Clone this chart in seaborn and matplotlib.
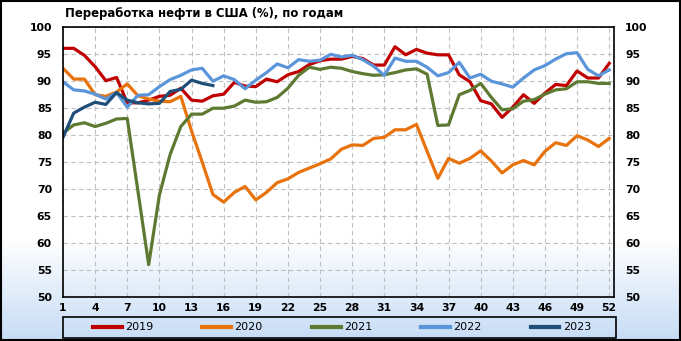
import numpy as np
import pandas as pd
import matplotlib
matplotlib.use("Agg")
import matplotlib.pyplot as plt
from matplotlib.lines import Line2D
from matplotlib.patches import Rectangle
import seaborn as sns

# weekly crude refinery utilization in the US, %
weeks = list(range(1, 53))
u2019 = [96.1, 96.1, 94.8, 92.7, 90.1, 90.7, 86.0, 86.0, 86.5, 87.2,
         87.4, 88.7, 86.5, 86.3, 87.3, 87.6, 89.8, 89.1, 89.0, 90.4,
         89.9, 91.2, 91.8, 93.1, 93.8, 94.1, 94.1, 94.6, 94.2, 93.0,
         93.0, 96.4, 94.9, 95.9, 95.2, 94.9, 94.9, 91.2, 89.9, 86.4,
         85.8, 83.3, 85.2, 87.5, 85.9, 87.8, 89.4, 89.2, 91.9, 90.6,
         90.6, 93.3]
u2020 = [92.4, 90.4, 90.4, 87.5, 87.2, 88.0, 89.5, 87.3, 86.7, 86.3,
         86.2, 87.2, 80.8, 75.0, 69.0, 67.6, 69.4, 70.5, 68.0, 69.4,
         71.2, 71.9, 73.1, 73.9, 74.7, 75.6, 77.4, 78.2, 78.1, 79.4,
         79.6, 81.0, 81.0, 82.0, 77.0, 72.0, 75.7, 74.8, 75.7, 77.1,
         75.2, 73.0, 74.5, 75.3, 74.5, 77.0, 78.6, 78.1, 79.9, 79.1,
         77.9, 79.4]
u2021 = [80.4, 81.9, 82.3, 81.6, 82.2, 83.0, 83.1, 69.6, 56.0, 68.9,
         76.4, 81.6, 83.9, 83.9, 85.0, 85.0, 85.4, 86.5, 86.1, 86.2,
         87.0, 88.7, 91.1, 92.6, 92.2, 92.6, 92.4, 91.8, 91.4, 91.1,
         91.2, 91.6, 92.1, 92.3, 91.3, 81.8, 81.9, 87.5, 88.3, 89.6,
         87.0, 84.7, 84.9, 86.3, 86.6, 87.6, 88.4, 88.6, 89.9, 89.9,
         89.6, 89.6]
u2022 = [89.9, 88.4, 88.2, 87.6, 86.7, 87.9, 85.2, 87.4, 87.5, 89.0,
         90.3, 91.1, 92.1, 92.4, 90.0, 91.0, 90.3, 88.6, 90.2, 91.6,
         93.2, 92.5, 94.0, 93.7, 93.9, 95.0, 94.5, 94.8, 94.0, 92.8,
         91.1, 94.3, 93.7, 93.7, 92.6, 91.0, 91.6, 93.5, 90.6, 91.3,
         90.0, 89.5, 88.9, 90.6, 92.1, 92.9, 94.1, 95.1, 95.3, 92.2,
         91.0, 92.1]
u2023 = [79.6, 84.1, 85.2, 86.1, 85.7, 87.9, 86.5, 86.0, 85.8, 85.9,
         88.1, 88.5, 90.2, 89.6, 89.2]

years = ["2019", "2020", "2021", "2022", "2023"]
series = [u2019, u2020, u2021, u2022, u2023]
colors = {"2019": "#C00000", "2020": "#E8720C", "2021": "#5E7A32",
          "2022": "#5A95DA", "2023": "#1F4E79"}

rows = []
for yr, vals in zip(years, series):
    for w, v in zip(weeks, vals):
        rows.append((w, v, yr))
df = pd.DataFrame(rows, columns=["week", "util", "year"])

W, H = 681, 341
fig = plt.figure(figsize=(W / 100, H / 100), dpi=100)

# background gradient (white -> light blue at the bottom)
bg = fig.add_axes([0, 0, 1, 1], zorder=-10)
t = np.linspace(0, 1, 300)
k = np.clip((t - 0.70) / 0.30, 0, 1)[:, None]
top = np.array([1.0, 1.0, 1.0])
bot = np.array([0xC6, 0xDC, 0xF5]) / 255
grad = (top * (1 - k) + bot * k)[:, None, :]
bg.imshow(grad, aspect="auto", extent=[0, 1, 0, 1])
bg.axis("off")

ax = fig.add_axes([63 / W, 1 - 297 / H, (614 - 63) / W, (297 - 27.3) / H])
ax.set_facecolor("none")

sns.lineplot(data=df, x="week", y="util", hue="year", palette=colors,
             linewidth=2.3, legend=False, ax=ax)

ax.set_xlim(1, 52.45)
ax.set_ylim(50, 100)
ax.set_xticks(list(range(1, 53, 3)))
ax.set_yticks(list(range(50, 101, 5)))
ax.set_xlabel("")
ax.set_ylabel("")
ax.grid(True, color="#BFBFBF", linestyle=(0, (4, 3)), linewidth=0.8)
ax.set_axisbelow(True)
for s in ax.spines.values():
    s.set_color("black")
    s.set_linewidth(1.2)
ax.tick_params(axis="both", length=0, labelsize=7.8)
ax.tick_params(axis="y", labelright=True, pad=8)
ax.tick_params(axis="x", pad=4)
for lab in ax.get_xticklabels() + ax.get_yticklabels():
    lab.set_fontweight("bold")
for tk in ax.yaxis.get_major_ticks():
    tk.label2.set_fontweight("bold")

fig.text(65 / W, 1 - 13 / H, "Переработка нефти в США (%), по годам",
         fontsize=8.4, fontweight="bold", ha="left", va="center")

# legend in its own framed strip under the plot
fig.patches.append(Rectangle((63 / W, 3 / H), (616 - 63) / W, (338 - 317) / H,
                             transform=fig.transFigure, fill=False,
                             edgecolor="black", linewidth=1.2))
handles = [Line2D([], [], color=colors[y], linewidth=3) for y in years]
fig.legend(handles, years, loc="center", bbox_to_anchor=(342 / W, 1 - 327.5 / H),
           ncol=5, frameon=False, fontsize=8, handlelength=2.6,
           handletextpad=0.3, columnspacing=4.4)

fig.patches.append(Rectangle((0.001, 0.002), 0.997, 0.995,
                             transform=fig.transFigure, fill=False,
                             edgecolor="black", linewidth=1.5))

plt.savefig("out.png", dpi=100)
